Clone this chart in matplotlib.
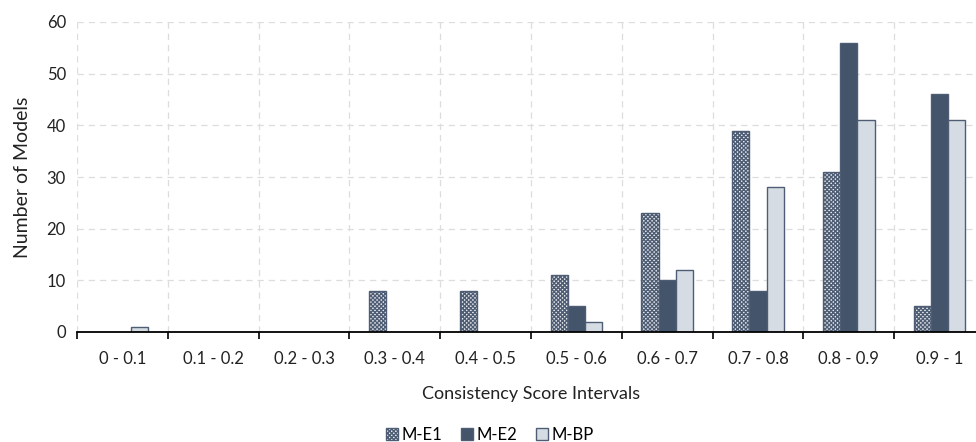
import numpy as np
import matplotlib
matplotlib.use('Agg')
import matplotlib.pyplot as plt
from matplotlib.patches import Patch

plt.rcParams['font.family'] = ['Lato', 'DejaVu Sans']
plt.rcParams['hatch.linewidth'] = 1.0

# data
intervals = ['0 - 0.1', '0.1 - 0.2', '0.2 - 0.3', '0.3 - 0.4', '0.4 - 0.5',
             '0.5 - 0.6', '0.6 - 0.7', '0.7 - 0.8', '0.8 - 0.9', '0.9 - 1']
m_e1 = [0, 0, 0, 8, 8, 11, 23, 39, 31, 5]
m_e2 = [0, 0, 0, 0, 0, 5, 10, 8, 56, 46]
m_bp = [1, 0, 0, 0, 0, 2, 12, 28, 41, 41]

dark = '#44546A'
light = '#D6DCE4'
edge = '#4E5D73'

fig = plt.figure(figsize=(9.76, 4.42), dpi=100)
ax = fig.add_axes([77/976, 110/442, 908/976, 310/442])

x = np.arange(len(intervals)) + 0.5
w = 0.19

def draw(vals, offset, **kw):
    v = np.array(vals, dtype=float)
    mask = v > 0
    return ax.bar(x[mask] + offset, v[mask], width=w, linewidth=1.0, zorder=3, **kw)

draw(m_e1, -w, facecolor='#E8EBEF', edgecolor=edge, hatch='xxxxxxxx')
draw(m_e2, 0, facecolor=dark, edgecolor=edge)
draw(m_bp, w, facecolor=light, edgecolor=edge)

ax.set_xlim(0, 10)
ax.set_ylim(0, 60)
ax.set_yticks(range(0, 61, 10))
ax.set_xticks(range(0, 11))
ax.set_xticklabels([])
ax.set_xticks(x, minor=True)
ax.set_xticklabels(intervals, minor=True)
ax.tick_params(axis='x', which='major', length=5, width=1.2, direction='out', color='black')
ax.tick_params(axis='x', which='minor', length=0, pad=14, labelsize=12, labelcolor='#222222')
ax.tick_params(axis='y', length=0, pad=8, labelsize=12, labelcolor='#222222')

for s in ['top', 'right', 'left']:
    ax.spines[s].set_visible(False)
ax.spines['bottom'].set_linewidth(1.3)
ax.spines['bottom'].set_zorder(4)

ax.grid(True, which='major', color='#DDDDDD', linestyle=(0, (5, 4)), linewidth=0.9, zorder=0)

ax.set_xlabel('Consistency Score Intervals', fontsize=13, labelpad=13, color='#222222')
ax.set_ylabel('Number of Models', fontsize=14, labelpad=11, color='#222222')

handles = [Patch(facecolor='#E8EBEF', edgecolor=edge, hatch='xxxxxxxx', label='M-E1'),
           Patch(facecolor=dark, edgecolor=edge, label='M-E2'),
           Patch(facecolor=light, edgecolor=edge, label='M-BP')]
fig.legend(handles=handles, loc='center', bbox_to_anchor=(490/976, 1 - 435/442), ncol=3,
           frameon=False, fontsize=12, handlelength=0.7, handleheight=0.7,
           handletextpad=0.25, columnspacing=1.1)

fig.savefig('out.png', dpi=100)
